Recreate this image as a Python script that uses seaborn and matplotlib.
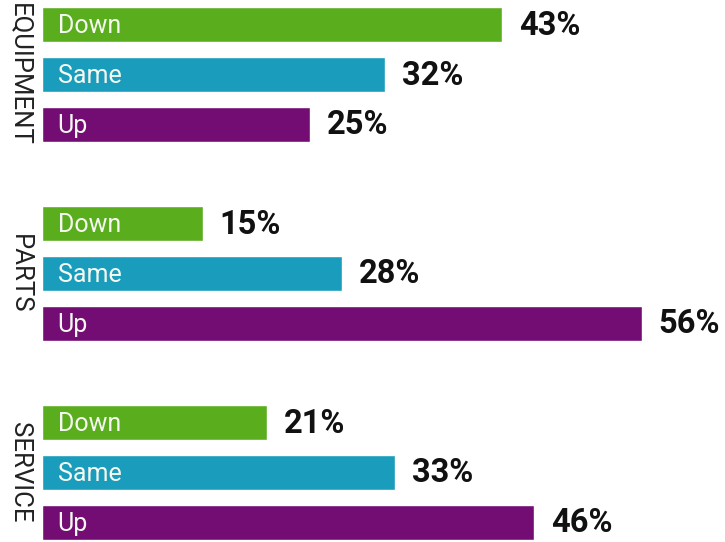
import matplotlib
matplotlib.use("Agg")
import matplotlib.pyplot as plt
import seaborn as sns
import pandas as pd

groups = ["EQUIPMENT", "PARTS", "SERVICE"]
statuses = ["Down", "Same", "Up"]
equipment = [43, 32, 25]
parts = [15, 28, 56]
service = [21, 33, 46]

colors = {"Down": "#5AAE1E", "Same": "#1A9DBD", "Up": "#730D73"}

rows = []
for gi, (g, vals) in enumerate(zip(groups, [equipment, parts, service])):
    for si, (s, v) in enumerate(zip(statuses, vals)):
        rows.append({"group": g, "status": s, "value": v, "pos": gi * 4 + si})
df = pd.DataFrame(rows)

sns.set_theme(style="white")
plt.rcParams["font.family"] = ["Roboto", "DejaVu Sans"]

fig = plt.figure(figsize=(7.25, 5.42), dpi=100)
ax = fig.add_axes([0, 0, 1, 1])

sns.barplot(data=df, x="value", y="pos", hue="status", palette=colors,
            orient="h", native_scale=True, dodge=False, width=0.7,
            legend=False, ax=ax, saturation=1)

for _, r in df.iterrows():
    ax.text(1.45, r["pos"] + 0.03, r["status"], color="#F4F8F0", fontsize=18,
            va="center", ha="left")
    ax.text(r["value"] + 1.6, r["pos"] + 0.02, f"{r['value']}%", color="#111111",
            fontsize=23.5, fontweight="bold", va="center", ha="left")

for gi, g in enumerate(groups):
    ax.text(-2.1, gi * 4 + 1, g, rotation=-90, fontsize=18.5, color="#222222",
            va="center", ha="center")

ax.set_xlim(-3.93, 63.8)
ax.set_ylim(10.4, -0.5)
ax.axis("off")

fig.savefig("out.png", dpi=100)
